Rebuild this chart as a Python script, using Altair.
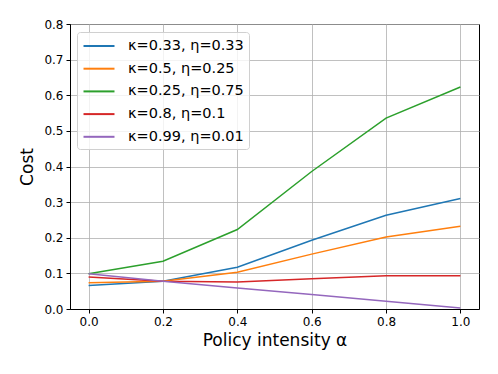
import altair as alt
import pandas as pd

alpha = [0.0, 0.2, 0.4, 0.6, 0.8, 1.0]
labels = ["κ=0.33, η=0.33", "κ=0.5, η=0.25", "κ=0.25, η=0.75", "κ=0.8, η=0.1", "κ=0.99, η=0.01"]
s1 = [0.066, 0.078, 0.117, 0.193, 0.263, 0.310]
s2 = [0.074, 0.078, 0.103, 0.154, 0.202, 0.232]
s3 = [0.099, 0.134, 0.223, 0.386, 0.536, 0.623]
s4 = [0.090, 0.078, 0.076, 0.085, 0.093, 0.093]
s5 = [0.099, 0.078, 0.059, 0.041, 0.022, 0.003]
colors = ["#1f77b4", "#ff7f0e", "#2ca02c", "#d62728", "#9467bd"]

rows = []
for lab, vals in zip(labels, [s1, s2, s3, s4, s5]):
    for a, v in zip(alpha, vals):
        rows.append({"alpha": a, "cost": v, "series": lab})
df = pd.DataFrame(rows)

font = "DejaVu Sans"

chart = alt.Chart(df).mark_line(strokeWidth=1.5).encode(
    x=alt.X("alpha:Q", scale=alt.Scale(domain=[-0.05, 1.05], nice=False, zero=False),
            axis=alt.Axis(values=alpha, format=".1f", title="Policy intensity α")),
    y=alt.Y("cost:Q", scale=alt.Scale(domain=[0, 0.8], nice=False),
            axis=alt.Axis(values=[0, 0.1, 0.2, 0.3, 0.4, 0.5, 0.6, 0.7, 0.8], format=".1f", title="Cost")),
    color=alt.Color("series:N", sort=labels,
                    scale=alt.Scale(domain=labels, range=colors),
                    legend=alt.Legend(title=None, orient="none", legendX=7, legendY=8,
                                      symbolType="M-2,0H2", symbolSize=240, symbolStrokeWidth=2,
                                      symbolOffset=8, labelOffset=20,
                                      labelFontSize=14.5, labelFont=font, labelColor="black",
                                      rowPadding=6.7, padding=5,
                                      fillColor="rgba(255,255,255,0.8)", strokeColor="#d0d0d0",
                                      cornerRadius=3)),
    detail="series:N",
).properties(
    width=409, height=285,
    autosize=alt.AutoSizeParams(type="none"),
    padding={"left": 62, "top": 16, "right": 11, "bottom": 50},
).configure_view(
    stroke="black", strokeWidth=1
).configure_axis(
    labelFont=font, titleFont=font, labelFontSize=12, titleFontSize=17,
    titleFontWeight="normal", labelColor="black", titleColor="black",
    domainColor="black", tickColor="black", tickSize=4,
    gridColor="#b0b0b0", gridWidth=0.8, labelPadding=3,
).configure_axisX(titlePadding=5).configure_axisY(titlePadding=7)

chart.save("out.html", embed_options={"renderer": "svg", "actions": False})
